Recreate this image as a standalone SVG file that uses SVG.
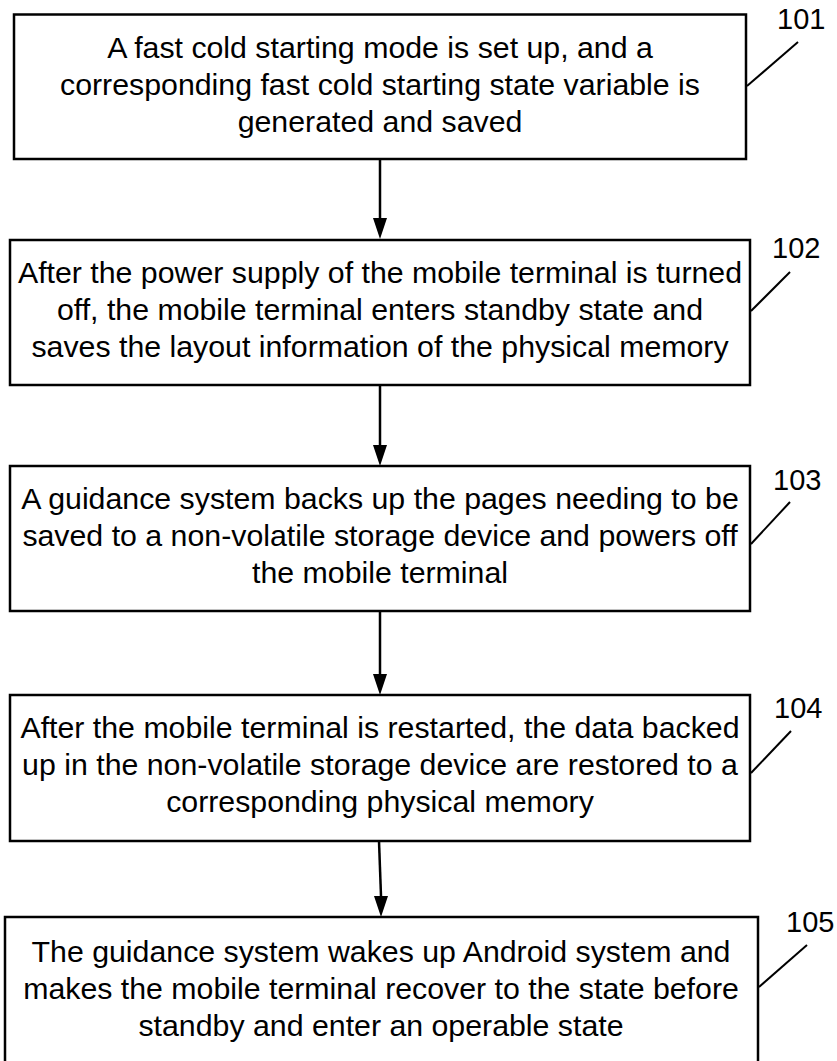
<svg xmlns="http://www.w3.org/2000/svg" width="837" height="1061" viewBox="0 0 837 1061">
<style>
.box{fill:#fff;stroke:#000;stroke-width:2.5}
.t{font-family:"Liberation Sans",Arial,sans-serif;font-size:30.3px;fill:#000;text-anchor:middle}
.lab{font-family:"Liberation Sans",Arial,sans-serif;font-size:29px;fill:#000}
.lead{stroke:#000;stroke-width:2;fill:none}
.conn{stroke:#000;stroke-width:2.5;fill:none}
.head{fill:#000}
</style>
<rect width="837" height="1061" fill="#fff"/>
<g id="connectors">
<path class="conn" d="M380,159 V218"/>
<path class="head" d="M373,218 L387,218 L380,239 Z"/>
<path class="conn" d="M380,385 V445"/>
<path class="head" d="M373,445 L387,445 L380,466 Z"/>
<path class="conn" d="M380,611 V674"/>
<path class="head" d="M373,674 L387,674 L380,695 Z"/>
<path class="conn" d="M379,841 L381,896"/>
<path class="head" d="M374,896 L388,896 L381,917 Z"/>
</g>
<g id="n101">
<rect class="box" x="14" y="14.5" width="732" height="144.5"/>
<text class="t" x="380" y="58">A fast cold starting mode is set up, and a</text>
<text class="t" x="380" y="95">corresponding fast cold starting state variable is</text>
<text class="t" x="380" y="132">generated and saved</text>
<line class="lead" x1="747" y1="86" x2="798" y2="42"/>
<text class="lab" x="777" y="29">101</text>
</g>
<g id="n102">
<rect class="box" x="10" y="240" width="740" height="145"/>
<text class="t" x="380" y="283">After the power supply of the mobile terminal is turned</text>
<text class="t" x="380" y="320">off, the mobile terminal enters standby state and</text>
<text class="t" x="380" y="357">saves the layout information of the physical memory</text>
<line class="lead" x1="751" y1="311" x2="790" y2="272"/>
<text class="lab" x="772" y="258">102</text>
</g>
<g id="n103">
<rect class="box" x="10" y="466" width="740" height="145"/>
<text class="t" x="380" y="509">A guidance system backs up the pages needing to be</text>
<text class="t" x="380" y="546">saved to a non-volatile storage device and powers off</text>
<text class="t" x="380" y="583">the mobile terminal</text>
<line class="lead" x1="751" y1="544" x2="790" y2="502"/>
<text class="lab" x="773" y="490">103</text>
</g>
<g id="n104">
<rect class="box" x="10" y="695" width="740" height="146"/>
<text class="t" x="380" y="738">After the mobile terminal is restarted, the data backed</text>
<text class="t" x="380" y="775">up in the non-volatile storage device are restored to a</text>
<text class="t" x="380" y="812">corresponding physical memory</text>
<line class="lead" x1="751" y1="773" x2="791" y2="731"/>
<text class="lab" x="774" y="718">104</text>
</g>
<g id="n105">
<rect class="box" x="5" y="917" width="753" height="150"/>
<text class="t" x="381" y="962">The guidance system wakes up Android system and</text>
<text class="t" x="381" y="999">makes the mobile terminal recover to the state before</text>
<text class="t" x="381" y="1036">standby and enter an operable state</text>
<line class="lead" x1="759" y1="987" x2="807" y2="945"/>
<text class="lab" x="786" y="932">105</text>
</g>
</svg>
